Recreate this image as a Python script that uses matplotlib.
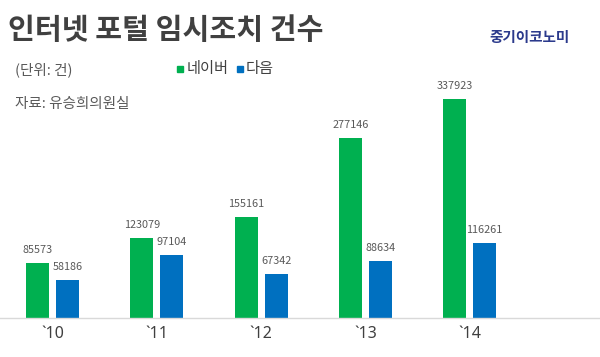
import matplotlib
matplotlib.use("Agg")
import matplotlib.pyplot as plt
import numpy as np

plt.rcParams['font.family'] = ['Noto Sans CJK KR', 'DejaVu Sans']

years = ["`10", "`11", "`12", "`13", "`14"]
naver = [85573, 123079, 155161, 277146, 337923]
daum = [58186, 97104, 67342, 88634, 116261]

GREEN = "#00B050"
BLUE = "#0070C0"
TXT = "#404040"

fig = plt.figure(figsize=(6, 3.57), dpi=100)
ax = fig.add_axes([0, 39/357, 1, (318-60)/357])

x = np.arange(len(years))
off = 0.144
w = 0.22
ax.bar(x - off, naver, w, color=GREEN)
ax.bar(x + off, daum, w, color=BLUE)
for xi, v in zip(x, naver):
    ax.text(xi - off, v + 20000, f"{v}", ha='center', va='center', fontsize=7.8, color="#595959")
for xi, v in zip(x, daum):
    ax.text(xi + off, v + 20000, f"{v}", ha='center', va='center', fontsize=7.8, color="#595959")

ax.set_xlim(-0.504, 5.251)
ax.set_ylim(0, 337923 * 258 / 219)
for s in ['top', 'right', 'left']:
    ax.spines[s].set_visible(False)
ax.spines['bottom'].set_color("#D9D9D9")
ax.spines['bottom'].set_linewidth(1)
ax.set_yticks([])
ax.set_xticks(x)
ax.set_xticklabels(years, fontsize=11.5, color=TXT, family=['Noto Sans', 'DejaVu Sans'])
ax.tick_params(axis='x', length=0, pad=6)

fig.text(8/600, 1 - 30/357, "인터넷 포털 임시조치 건수", fontsize=21, fontweight='bold',
         color=TXT, va='center', ha='left')
fig.text(530/600, 1 - 37/357, "중기이코노미", fontsize=10.5, fontweight='bold',
         color="#2B3A8C", va='center', ha='center')
fig.text(15/600, 1 - 70/357, "(단위: 건)", fontsize=10.5, color="#595959", va='center', ha='left')
fig.text(15/600, 1 - 104/357, "자료: 유승희의원실", fontsize=10.5, color="#595959", va='center', ha='left')

# legend
fig.patches.append(plt.Rectangle((177/600, 1 - 72/357), 6/600, 6/357, color=GREEN,
                                 transform=fig.transFigure, figure=fig))
fig.text(187/600, 1 - 69/357, "네이버", fontsize=11, color=TXT, va='center', ha='left')
fig.patches.append(plt.Rectangle((237/600, 1 - 72/357), 6/600, 6/357, color=BLUE,
                                 transform=fig.transFigure, figure=fig))
fig.text(246/600, 1 - 69/357, "다음", fontsize=11, color=TXT, va='center', ha='left')

fig.savefig("out.png", dpi=100)
